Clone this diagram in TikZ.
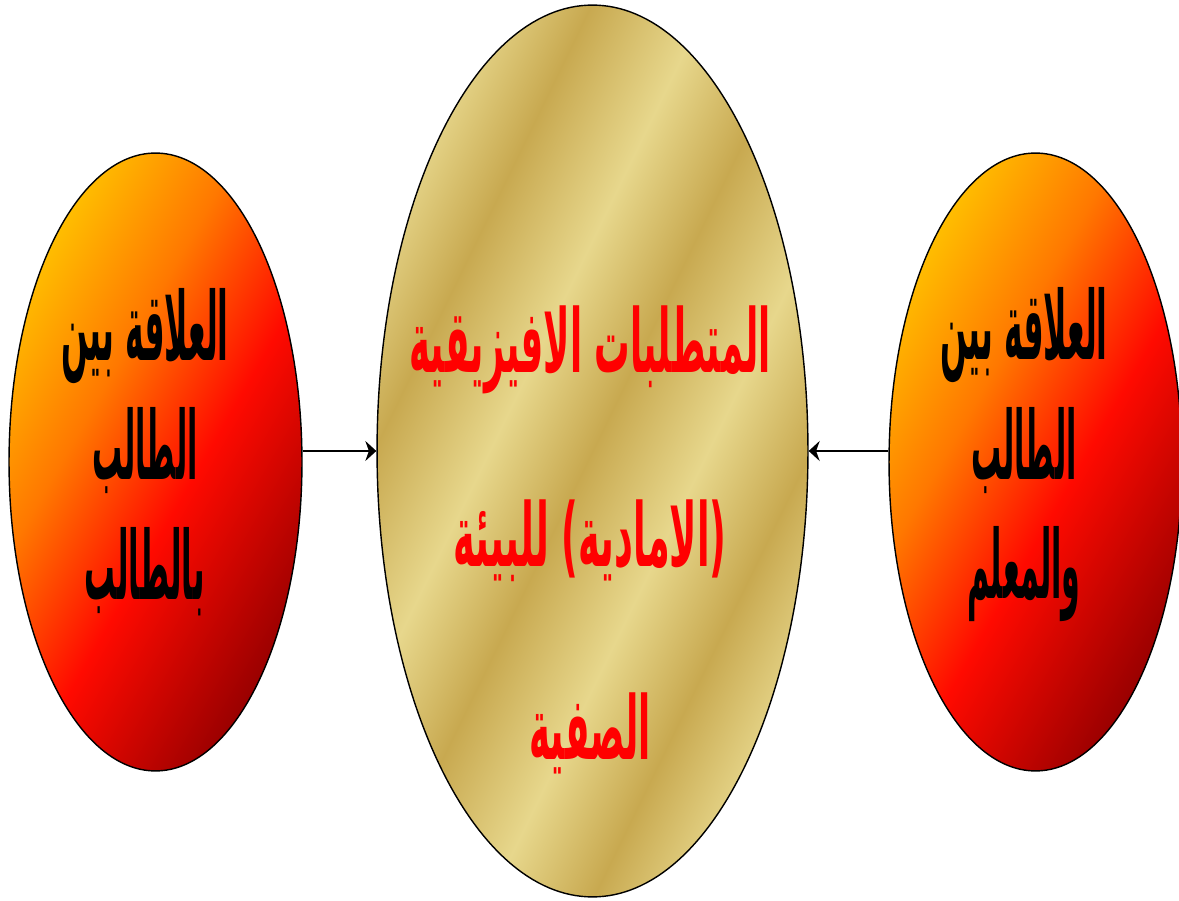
\documentclass[tikz,border=0pt]{standalone}
\usepackage{fontspec}
\usetikzlibrary{shapes.geometric,arrows.meta}
\TeXXeTstate=1
\newfontfamily\arabicfont[Script=Arabic,FakeStretch=0.72]{DejaVu Sans}
\newcommand{\arline}[2]{\scalebox{#1}[1]{#2}}
\definecolor{goldL}{RGB}{231,215,140}
\definecolor{goldD}{RGB}{200,169,80}
\definecolor{sunA}{RGB}{255,192,0}
\definecolor{sunO}{RGB}{255,120,0}
\definecolor{sunB}{RGB}{255,10,0}
\definecolor{sunC}{RGB}{150,0,0}
\pgfdeclarehorizontalshading{goldbar}{100bp}{color(0bp)=(goldL); color(25bp)=(goldL);
  color(33bp)=(goldD); color(42bp)=(goldL); color(50bp)=(goldD); color(59bp)=(goldL);
  color(67bp)=(goldD); color(75bp)=(goldL); color(100bp)=(goldL)}
\pgfdeclarehorizontalshading{sunset}{100bp}{color(0bp)=(sunA); color(25bp)=(sunA);
  color(40bp)=(sunO); color(55bp)=(sunB); color(75bp)=(sunC); color(100bp)=(sunC)}
\begin{document}
\begin{tikzpicture}[x=0.02cm, y=-0.02cm, >={Stealth[length=0.22cm,width=0.4cm]},
    bubble/.style={ellipse, draw, line width=0.8pt, inner sep=0pt,
      minimum width=5.86cm, minimum height=12.36cm, shading=sunset, shading angle=-30},
    sidetext/.style={align=center, text=black,
      font=\arabicfont\bfseries\fontsize{54}{68}\selectfont},
    midtext/.style={align=center, text=red,
      font=\arabicfont\bfseries\fontsize{50}{110}\selectfont}]
    \useasboundingbox (0,0) rectangle (1179,901);
    % the three ellipses
    \node[ellipse, draw, line width=0.8pt, inner sep=0pt, minimum width=8.62cm,
      minimum height=17.84cm, shading=goldbar, shading angle=-26] (cb) at (592.5,451) {};
    \node[bubble] (lb) at (155.5,462) {};
    \node[bubble] (rb) at (1035.5,462) {};
    % texts
    \node[sidetext] (lt) at (145,452) {\arline{0.46}{\beginR العلاقة بين\endR}\\ \arline{0.44}{\beginR الطالب\endR}\\ \arline{0.45}{\beginR بالطالب\endR}};
    \node[sidetext] (rt) at (1024,455) {\arline{0.46}{\beginR العلاقة بين\endR}\\ \arline{0.44}{\beginR الطالب\endR}\\ \arline{0.44}{\beginR والمعلم\endR}};
    \node[midtext] (ct) at (590,540) {\arline{0.56}{\beginR المتطلبات الافيزيقية\endR}\\ \arline{0.58}{\beginR (الامادية) للبيئة\endR}\\ \arline{0.56}{\beginR الصفية\endR}};
    % arrows
    \draw[->, line width=1.5pt] (lb.east |- cb.west) -- (cb.west);
    \draw[->, line width=1.5pt] (rb.west |- cb.east) -- (cb.east);
\end{tikzpicture}
\end{document}
